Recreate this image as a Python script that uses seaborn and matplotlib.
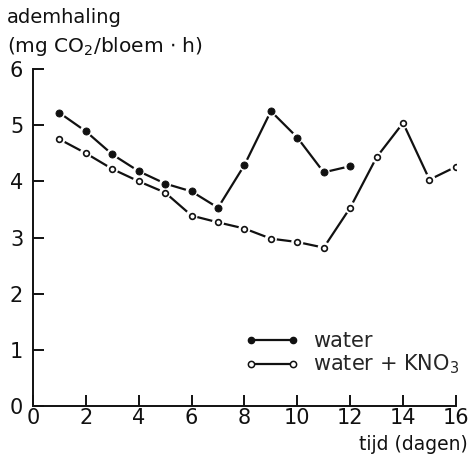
import matplotlib
matplotlib.use("Agg")
import matplotlib.pyplot as plt
from matplotlib.lines import Line2D
import seaborn as sns
import pandas as pd

# Respiration of cut flowers (mg CO2 per flower per hour) over time
days_water = [1, 2, 3, 4, 5, 6, 7, 8, 9, 10, 11, 12]
resp_water = [5.22, 4.89, 4.48, 4.18, 3.96, 3.82, 3.53, 4.29, 5.25, 4.78, 4.16, 4.27]

days_kno3 = [1, 2, 3, 4, 5, 6, 7, 8, 9, 10, 11, 12, 13, 14, 15, 16]
resp_kno3 = [4.75, 4.50, 4.22, 4.00, 3.80, 3.39, 3.27, 3.16, 2.98, 2.92, 2.82,
             3.53, 4.43, 5.04, 4.03, 4.26]

series_labels = ["water", "water + KNO$_3$"]
x_ticks = [0, 2, 4, 6, 8, 10, 12, 14, 16]
y_ticks = [0, 1, 2, 3, 4, 5, 6]

df_water = pd.DataFrame({"dag": days_water, "ademhaling": resp_water})
df_kno3 = pd.DataFrame({"dag": days_kno3, "ademhaling": resp_kno3})

sns.set_theme(style="white")
plt.rcParams["font.family"] = ["DejaVu Sans"]
plt.rcParams["xtick.direction"] = "in"
plt.rcParams["ytick.direction"] = "in"

fig = plt.figure(figsize=(4.71, 4.63), dpi=100)
ax = fig.add_axes([0.070, 0.123, 0.898, 0.728])

ink = "#111111"
for df in (df_water, df_kno3):
    sns.lineplot(data=df, x="dag", y="ademhaling", ax=ax, color=ink,
                 linewidth=1.6, zorder=2)
    # white halo so the line stops short of each point
    sns.scatterplot(data=df, x="dag", y="ademhaling", ax=ax, s=75,
                    color="white", edgecolor="none", zorder=3)

sns.scatterplot(data=df_water, x="dag", y="ademhaling", ax=ax, s=26,
                color=ink, edgecolor=ink, linewidth=0.6, zorder=4)
sns.scatterplot(data=df_kno3, x="dag", y="ademhaling", ax=ax, s=17,
                color="white", edgecolor=ink, linewidth=1.2, zorder=4)

ax.set_xlim(0, 16)
ax.set_ylim(0, 6)
ax.set_xticks(x_ticks)
ax.set_yticks(y_ticks)
ax.set_xlabel("")
ax.set_ylabel("")
for side in ("top", "right"):
    ax.spines[side].set_visible(False)
for side in ("left", "bottom"):
    ax.spines[side].set_color(ink)
    ax.spines[side].set_linewidth(1.4)
ax.tick_params(axis="both", which="major", bottom=True, left=True,
               direction="in", length=8, width=1.4, color=ink,
               labelsize=15, labelcolor=ink)
ax.tick_params(axis="x", pad=1.5)
ax.tick_params(axis="y", pad=7)

fig.text(0.014, 0.962, "ademhaling", fontsize=14, color=ink, va="center")
fig.text(0.014, 0.900, "(mg CO$_2$/bloem $\\cdot$ h)", fontsize=14.5,
         color=ink, va="center")
fig.text(0.993, 0.040, "tijd (dagen)", fontsize=13.5, color=ink, va="center",
         ha="right")

handles = [
    Line2D([], [], color=ink, linewidth=1.6, marker="o", markersize=4.5,
           markerfacecolor=ink, markeredgecolor=ink),
    Line2D([], [], color=ink, linewidth=1.6, marker="o", markersize=4.5,
           markerfacecolor="white", markeredgecolor=ink, markeredgewidth=1.1),
]
ax.legend(handles, series_labels, numpoints=2, frameon=False, fontsize=15,
          loc="lower right", bbox_to_anchor=(1.027, 0.063), handlelength=2.6,
          handletextpad=0.67, labelspacing=0.1, borderaxespad=0)

fig.savefig("out.png", dpi=100, facecolor="white")
